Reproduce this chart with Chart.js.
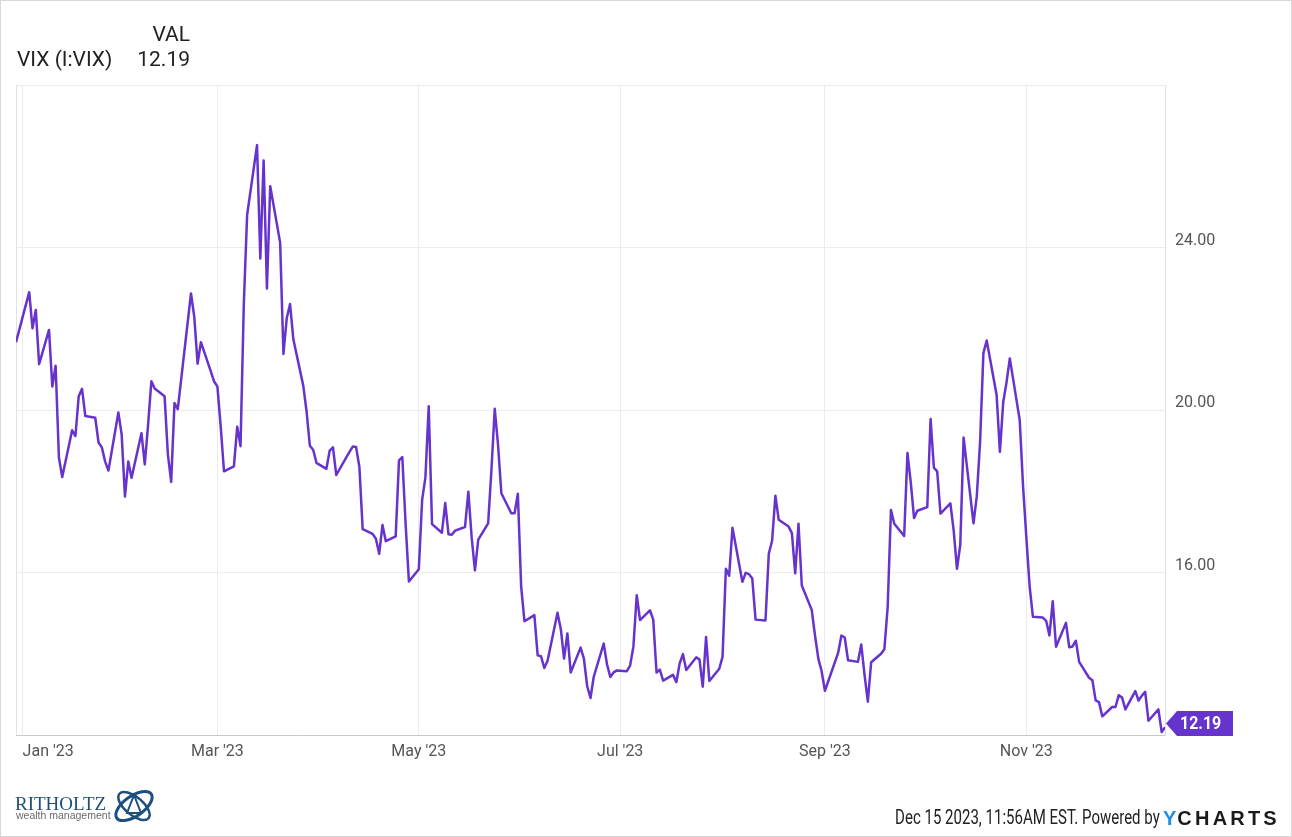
<!DOCTYPE html>
<html>
<head>
<meta charset="utf-8">
<title>VIX (I:VIX)</title>
<script src="https://cdn.jsdelivr.net/npm/chart.js@4.4.1/dist/chart.umd.min.js"></script>
<style>
  html, body { margin: 0; padding: 0; background: #fff; }
  body { position: relative; width: 1292px; height: 837px; overflow: hidden; color: #222; }
  #chart-box { position: absolute; left: 0; top: 0; width: 1292px; height: 837px; }
  #frame { position: absolute; left: 0; top: 0; width: 1292px; height: 837px; box-sizing: border-box; border: 1px solid #d8d8d8; pointer-events: none; }
  .head { position: absolute; font-family: Roboto, sans-serif; font-size: 21px; line-height: 21px; white-space: nowrap; }
  #h-val { left: 0; width: 190px; top: 24px; text-align: right; }
  #h-name { left: 17px; top: 49px; }
  #h-last { left: 0; width: 190px; top: 49px; text-align: right; }
  #logo-name { position: absolute; left: 15px; top: 794px; font: 19px/19px "Liberation Serif", serif; color: #1f4f7d; }
  #logo-sub { position: absolute; left: 16px; top: 810px; font: 10.5px/10.5px "Liberation Sans", sans-serif; color: #6b6b6b; }
  #logo-mark { position: absolute; left: 110px; top: 783px; }
  #stamp { position: absolute; right: 132px; top: 808px; font: 19.5px/19.5px Roboto, sans-serif; white-space: nowrap;
           transform: scaleX(0.77); transform-origin: right center; }
  #ych { position: absolute; left: 1163px; top: 808px; font: bold 20px/20px "Liberation Sans", sans-serif; letter-spacing: 3.2px; color: #1a1a1a; white-space: nowrap; }
  #ych span { color: #1e8fe6; letter-spacing: 1px; }
</style>
</head>
<body>
<div id="chart-box"><canvas id="vix-canvas"></canvas></div>
<div class="head" id="h-val">VAL</div>
<div class="head" id="h-name">VIX (I:VIX)</div>
<div class="head" id="h-last"></div>
<div id="logo-name">RITHOLTZ</div>
<div id="logo-sub">wealth management</div>
<svg id="logo-mark" width="48" height="46" viewBox="0 0 48 46">
  <ellipse cx="24" cy="23" rx="21" ry="10" transform="rotate(-35 24 23)" fill="none" stroke="#1f4f7d" stroke-width="3"/>
  <ellipse cx="24" cy="23" rx="19" ry="9" transform="rotate(40 24 23)" fill="none" stroke="#1f4f7d" stroke-width="2.5"/>
  <path d="M17 30 L24 12 L31 30 Z" fill="none" stroke="#1f4f7d" stroke-width="2"/>
</svg>
<div id="stamp">Dec 15 2023, 11:56AM EST. Powered by</div>
<div id="ych"><span>Y</span>CHARTS</div>
<div id="frame"></div>
<script>
// VIX daily values, Dec 30 2022 .. Dec 13 2023
const vixDates = [
  '2022-12-30',
  '2023-01-03','2023-01-04','2023-01-05','2023-01-06','2023-01-09','2023-01-10','2023-01-11','2023-01-12','2023-01-13',
  '2023-01-16','2023-01-17','2023-01-18','2023-01-19','2023-01-20','2023-01-23','2023-01-24','2023-01-25','2023-01-26',
  '2023-01-27','2023-01-30','2023-01-31',
  '2023-02-01','2023-02-02','2023-02-03','2023-02-06','2023-02-07','2023-02-08','2023-02-09','2023-02-10','2023-02-13',
  '2023-02-14','2023-02-15','2023-02-16','2023-02-17','2023-02-21','2023-02-22','2023-02-23','2023-02-24','2023-02-27',
  '2023-02-28',
  '2023-03-01','2023-03-02','2023-03-03','2023-03-06','2023-03-07','2023-03-08','2023-03-09','2023-03-10','2023-03-13',
  '2023-03-14','2023-03-15','2023-03-16','2023-03-17','2023-03-20','2023-03-21','2023-03-22','2023-03-23','2023-03-24',
  '2023-03-27','2023-03-28','2023-03-29','2023-03-30','2023-03-31',
  '2023-04-03','2023-04-04','2023-04-05','2023-04-06','2023-04-10','2023-04-11','2023-04-12','2023-04-13','2023-04-14',
  '2023-04-17','2023-04-18','2023-04-19','2023-04-20','2023-04-21','2023-04-24','2023-04-25','2023-04-26','2023-04-27',
  '2023-04-28',
  '2023-05-01','2023-05-02','2023-05-03','2023-05-04','2023-05-05','2023-05-08','2023-05-09','2023-05-10','2023-05-11',
  '2023-05-12','2023-05-15','2023-05-16','2023-05-17','2023-05-18','2023-05-19','2023-05-22','2023-05-23','2023-05-24',
  '2023-05-25','2023-05-26','2023-05-29','2023-05-30','2023-05-31',
  '2023-06-01','2023-06-02','2023-06-05','2023-06-06','2023-06-07','2023-06-08','2023-06-09','2023-06-12','2023-06-13',
  '2023-06-14','2023-06-15','2023-06-16','2023-06-19','2023-06-20','2023-06-21','2023-06-22','2023-06-23','2023-06-26',
  '2023-06-27','2023-06-28','2023-06-29','2023-06-30',
  '2023-07-03','2023-07-04','2023-07-05','2023-07-06','2023-07-07','2023-07-10','2023-07-11','2023-07-12','2023-07-13',
  '2023-07-14','2023-07-17','2023-07-18','2023-07-19','2023-07-20','2023-07-21','2023-07-24','2023-07-25','2023-07-26',
  '2023-07-27','2023-07-28','2023-07-31',
  '2023-08-01','2023-08-02','2023-08-03','2023-08-04','2023-08-07','2023-08-08','2023-08-09','2023-08-10','2023-08-11',
  '2023-08-14','2023-08-15','2023-08-16','2023-08-17','2023-08-18','2023-08-21','2023-08-22','2023-08-23','2023-08-24',
  '2023-08-25','2023-08-28','2023-08-29','2023-08-30','2023-08-31',
  '2023-09-01','2023-09-05','2023-09-06','2023-09-07','2023-09-08','2023-09-11','2023-09-12','2023-09-13','2023-09-14',
  '2023-09-15','2023-09-18','2023-09-19','2023-09-20','2023-09-21','2023-09-22','2023-09-25','2023-09-26','2023-09-27',
  '2023-09-28','2023-09-29',
  '2023-10-02','2023-10-03','2023-10-04','2023-10-05','2023-10-06','2023-10-09','2023-10-10','2023-10-11','2023-10-12',
  '2023-10-13','2023-10-16','2023-10-17','2023-10-18','2023-10-19','2023-10-20','2023-10-23','2023-10-24','2023-10-25',
  '2023-10-26','2023-10-27','2023-10-30','2023-10-31',
  '2023-11-01','2023-11-02','2023-11-03','2023-11-06','2023-11-07','2023-11-08','2023-11-09','2023-11-10','2023-11-13',
  '2023-11-14','2023-11-15','2023-11-16','2023-11-17','2023-11-20','2023-11-21','2023-11-22','2023-11-23','2023-11-24',
  '2023-11-27','2023-11-28','2023-11-29','2023-11-30',
  '2023-12-01','2023-12-04','2023-12-05','2023-12-06','2023-12-07','2023-12-08','2023-12-11','2023-12-12','2023-12-13'
];

const vixClose = [
  21.67,
  22.90, 22.01, 22.46, 21.13, 21.97, 20.58, 21.09, 18.83, 18.35,
  19.50, 19.36, 20.34, 20.52, 19.85, 19.81, 19.20, 19.08, 18.73,
  18.51, 19.94, 19.40,
  17.87, 18.73, 18.33, 19.43, 18.66, 19.63, 20.71, 20.53, 20.34,
  18.91, 18.23, 20.17, 20.02, 22.87, 22.29, 21.14, 21.67, 20.95,
  20.70,
  20.58, 19.59, 18.49, 18.61, 19.59, 19.11, 22.61, 24.80, 26.52,
  23.73, 26.14, 22.99, 25.51, 24.12, 21.38, 22.26, 22.61, 21.74,
  20.60, 19.97, 19.12, 19.02, 18.70,
  18.55, 19.00, 19.08, 18.40, 18.97, 19.10, 19.09, 18.60, 17.07,
  16.95, 16.83, 16.46, 17.17, 16.77, 16.89, 18.76, 18.84, 17.20,
  15.78,
  16.08, 17.78, 18.34, 20.09, 17.19, 16.98, 17.71, 16.94, 16.93,
  17.03, 17.12, 17.99, 16.87, 16.05, 16.81, 17.21, 18.53, 20.03,
  19.14, 17.95, 17.46, 17.46, 17.94,
  15.65, 14.80, 14.95, 13.96, 13.94, 13.65, 13.83, 15.01, 14.61,
  13.88, 14.50, 13.54, 14.15, 13.88, 13.20, 12.91, 13.44, 14.25,
  13.74, 13.43, 13.54, 13.59,
  13.57, 13.71, 14.18, 15.44, 14.83, 15.07, 14.84, 13.54, 13.61,
  13.34, 13.48, 13.30, 13.76, 13.99, 13.60, 13.91, 13.86, 13.19,
  14.41, 13.33, 13.63,
  13.93, 16.09, 15.92, 17.10, 15.77, 15.99, 15.96, 15.85, 14.84,
  14.82, 16.46, 16.78, 17.89, 17.30, 17.13, 16.97, 15.98, 17.20,
  15.68, 15.08, 14.45, 13.88, 13.57,
  13.09, 14.02, 14.45, 14.40, 13.84, 13.80, 14.23, 13.48, 12.82,
  13.79, 14.00, 14.11, 15.14, 17.54, 17.20, 16.90, 18.94, 18.22,
  17.34, 17.52,
  17.61, 19.78, 18.58, 18.49, 17.45, 17.70, 17.03, 16.09, 16.69,
  19.32, 17.21, 17.88, 19.22, 21.40, 21.71, 20.37, 18.97, 20.19,
  20.68, 21.27, 19.75, 18.14,
  16.87, 15.66, 14.91, 14.89, 14.81, 14.45, 15.29, 14.17, 14.76,
  14.16, 14.18, 14.32, 13.80, 13.41, 13.35, 12.85, 12.81, 12.46,
  12.69, 12.69, 12.98, 12.92,
  12.63, 13.08, 12.85, 12.97, 13.06, 12.35, 12.63, 12.07, 12.19
];

const tickDates = ['2023-01-01', '2023-03-01', '2023-05-01', '2023-07-01', '2023-09-01', '2023-11-01'];
const tickLabels = ["Jan '23", "Mar '23", "May '23", "Jul '23", "Sep '23", "Nov '23"];
const yLabelValues = [16, 20, 24];

const lineColor = '#6633cc';
const tickFont = { family: 'Roboto', size: 16 };

document.getElementById('h-last').textContent = vixClose[vixClose.length - 1].toFixed(2);

const t0 = Date.parse('2023-01-01');
const dayOf = d => (Date.parse(d) - t0) / 864e5;
const tickDays = tickDates.map(dayOf);
const points = vixDates.map((d, i) => ({ x: dayOf(d), y: vixClose[i] }));

// left edge of the plot box (the other three come from the axes)
const plotFrame = {
  id: 'plotFrame',
  beforeDatasetsDraw(chart) {
    const { ctx, chartArea } = chart;
    ctx.save();
    ctx.strokeStyle = '#e3e3e3';
    ctx.lineWidth = 1;
    ctx.beginPath();
    ctx.moveTo(Math.round(chartArea.left) + 0.5, chartArea.top);
    ctx.lineTo(Math.round(chartArea.left) + 0.5, chartArea.bottom);
    ctx.stroke();
    ctx.restore();
  }
};

// purple price flag for the last value
const lastTag = {
  id: 'lastTag',
  afterDatasetsDraw(chart) {
    const { ctx, chartArea, scales } = chart;
    const v = vixClose[vixClose.length - 1];
    const h = 12.5;
    const y = Math.min(scales.y.getPixelForValue(v), chartArea.bottom - h + 1);
    const tip = chartArea.right + 1, base = tip + 11, end = base + 56;
    ctx.save();
    ctx.fillStyle = lineColor;
    ctx.beginPath();
    ctx.moveTo(tip, y);
    ctx.lineTo(base, y - h);
    ctx.lineTo(end, y - h);
    ctx.lineTo(end, y + h);
    ctx.lineTo(base, y + h);
    ctx.closePath();
    ctx.fill();
    ctx.fillStyle = '#fff';
    ctx.font = 'bold 19px Roboto';
    ctx.textAlign = 'left';
    ctx.textBaseline = 'middle';
    ctx.translate(base + 3, y + 1);
    ctx.scale(0.84, 1);
    ctx.fillText(v.toFixed(2), 0, 0);
    ctx.restore();
  }
};

new Chart(document.getElementById('vix-canvas'), {
  type: 'line',
  data: {
    datasets: [{
      label: 'VIX (I:VIX)',
      data: points,
      borderColor: lineColor,
      borderWidth: 2.5,
      borderJoinStyle: 'round',
      pointRadius: 0,
      tension: 0,
      fill: false
    }]
  },
  options: {
    responsive: true,
    maintainAspectRatio: false,
    animation: false,
    layout: { padding: { left: 16, top: 85, right: 0, bottom: 0 } },
    plugins: { legend: { display: false }, tooltip: { enabled: false } },
    scales: {
      x: {
        type: 'linear',
        min: dayOf(vixDates[0]),
        max: dayOf(vixDates[vixDates.length - 1]),
        afterBuildTicks: s => { s.ticks = tickDays.concat([s.max]).map(value => ({ value })); },
        afterFit: s => { s.height = 102; },
        grid: { color: '#ececec', drawTicks: false },
        border: { color: '#c9c9c9' },
        ticks: {
          align: 'inner', autoSkip: false, maxRotation: 0, padding: 7,
          color: '#555', font: tickFont,
          callback: v => { const i = tickDays.indexOf(v); return i < 0 ? '' : tickLabels[i]; }
        }
      },
      y: {
        position: 'right',
        min: 12,
        max: 28,
        afterFit: s => { s.width = 127; },
        grid: { color: '#ececec', drawTicks: false },
        border: { color: '#e0e0e0' },
        ticks: {
          stepSize: 4, padding: 10, labelOffset: -7,
          color: '#555', font: tickFont,
          callback: v => yLabelValues.includes(v) ? v.toFixed(2) : ''
        }
      }
    }
  },
  plugins: [plotFrame, lastTag]
});
</script>
</body>
</html>
